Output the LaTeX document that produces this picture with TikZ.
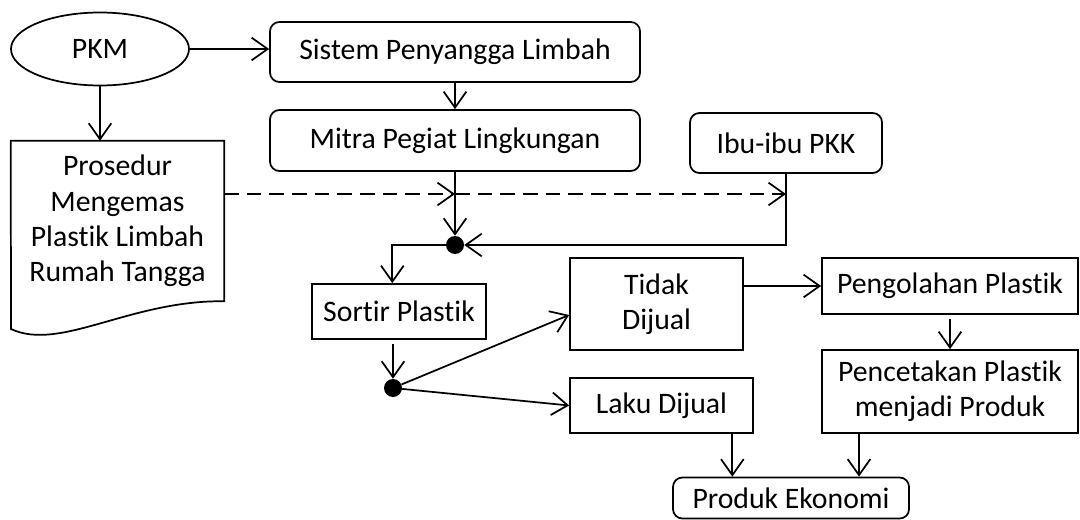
\documentclass[tikz,border=0pt]{standalone}
\usepackage{fontspec}
\setmainfont{Carlito}[Ligatures={NoCommon}]
\usetikzlibrary{arrows.meta,shapes.geometric}

\begin{document}
\begin{tikzpicture}[
  x=0.75pt, y=-0.75pt,
  >={Straight Barb[length=12pt, width=17pt, line width=1.3pt]},
  font=\fontsize{22.3}{26.5}\selectfont,
  box/.style={draw, line width=1.3pt, inner sep=2pt, align=center},
  rbox/.style={box, rounded corners=7pt},
  junction/.style={circle, fill=black, minimum size=13.5pt, inner sep=0pt},
  rel/.style={->, line width=1.3pt},
  dash rel/.style={rel, dash pattern=on 11pt off 6pt},
]
  \useasboundingbox (0,0) rectangle (1080,520);

  % nodes
  \node[box, ellipse, minimum width=133.5pt, minimum height=54.75pt] (pkm) at (100,49) {PKM};
  \node[rbox, minimum width=277.5pt, minimum height=45pt] (sistem) at (455,52) {Sistem Penyangga Limbah};
  \node[rbox, minimum width=277.5pt, minimum height=45.75pt] (mitra) at (455,140.5) {Mitra Pegiat Lingkungan};
  \node[rbox, minimum width=144pt, minimum height=45pt] (ibu) at (786,143) {Ibu-ibu PKK};
  \node[minimum width=159.75pt, minimum height=120pt, inner sep=0pt, align=center] (prosedur) at (117.5,221)
    {Prosedur\\Mengemas\\Plastik Limbah\\Rumah Tangga};
  \draw[line width=1.3pt] (prosedur.north west) -- (prosedur.north east) -- (prosedur.south east)
    .. controls (130,300) and (60,352) .. (11,329) -- cycle;
  \node[junction] (j1) at (455,245) {};
  \node[box, minimum width=130.5pt, minimum height=41.25pt] (sortir) at (399,311.5) {Sortir Plastik};
  \node[junction] (j2) at (393,388) {};
  \node[box, minimum width=129.75pt, minimum height=69pt] (tidak) at (656.5,304) {Tidak\\Dijual};
  \node[box, minimum width=137.25pt, minimum height=41.25pt] (laku) at (661.5,405.5) {Laku Dijual};
  \node[box, minimum width=192pt, minimum height=42pt] (olah) at (950,286) {Pengolahan Plastik};
  \node[box, minimum width=192pt, minimum height=62.25pt] (cetak) at (950,391.5) {Pencetakan Plastik\\menjadi Produk};
  \node[rbox, minimum width=177pt, minimum height=30.75pt] (produk) at (791,498) {Produk Ekonomi};
  \coordinate (dsrc) at (224,194);

  % connectors
  \draw[rel] (pkm.east) -- (pkm.east -| sistem.west);
  \draw[rel] (pkm.south) -- (pkm.south |- prosedur.north);
  \draw[rel] (sistem) -- (mitra);
  \draw[rel] (mitra) -- (j1);
  \draw[dash rel] (dsrc) -- (dsrc -| mitra.south);
  \draw[dash rel] (dsrc -| mitra.south) -- (dsrc -| ibu.south);
  \draw[rel] (ibu.south) |- (j1);
  \draw[rel] (j1) -| ([xshift=-5pt]sortir.north);
  \draw[rel, shorten <=3pt] (sortir.south -| j2) -- (j2);
  \draw[rel] (j2) -- ([yshift=-8.25pt]tidak.west);
  \draw[rel] (j2) -- (laku.west);
  \draw[rel] (tidak.east |- olah) -- (olah.west);
  \draw[rel, shorten <=3pt] (olah) -- (cetak);
  \draw[rel] ([xshift=-44pt]produk.north |- laku.south) -- ([xshift=-44pt]produk.north);
  \draw[rel] ([xshift=51pt]produk.north |- cetak.south) -- ([xshift=51pt]produk.north);
\end{tikzpicture}
\end{document}
